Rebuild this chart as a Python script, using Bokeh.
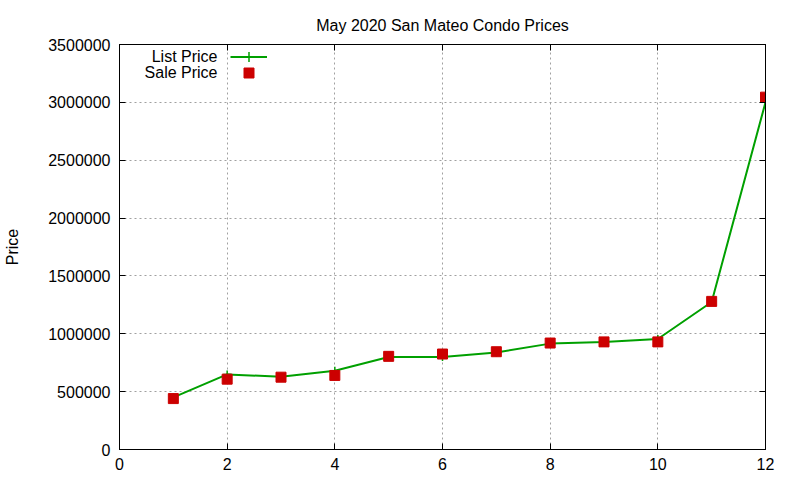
from bokeh.plotting import figure
from bokeh.models import (FixedTicker, BasicTickFormatter, CustomJSTickFormatter,
                          Legend, LegendItem, Label, LinearAxis)
from bokeh.embed import file_html
from bokeh.resources import INLINE

FONT = "Liberation Sans"

months = [1, 2, 3, 4, 5, 6, 7, 8, 9, 10, 11, 12]
list_price = [450000, 649000, 629000, 680000, 799000, 799000,
              838000, 915000, 928000, 955000, 1275000, 3000000]
sale_price = [440000, 608000, 625000, 640000, 805000, 825000,
              845000, 920000, 930000, 930000, 1280000, 3045000]

x_ticks = [0, 2, 4, 6, 8, 10, 12]
y_ticks = [0, 500000, 1000000, 1500000, 2000000, 2500000, 3000000, 3500000]

p = figure(width=800, height=480, x_range=(0, 12), y_range=(0, 3500000),
           output_backend="svg", toolbar_location=None,
           min_border_left=119, min_border_right=35,
           min_border_top=44, min_border_bottom=31)

p.title.text = "May 2020 San Mateo Condo Prices"
p.title.align = "center"
p.title.text_font = FONT
p.title.text_font_size = "16px"
p.title.text_font_style = "normal"
p.title.text_color = "black"
p.title.standoff = 21

p.outline_line_color = "black"
p.outline_line_width = 1

p.xaxis.ticker = FixedTicker(ticks=x_ticks)
p.yaxis.ticker = FixedTicker(ticks=y_ticks)
p.yaxis.formatter = BasicTickFormatter(use_scientific=False)
p.yaxis.axis_label = "Price"
p.yaxis.axis_label_text_font_style = "normal"
p.yaxis.axis_label_text_font_size = "16px"
p.yaxis.axis_label_text_font = FONT
p.yaxis.axis_label_text_color = "black"
p.yaxis.axis_label_standoff = 24
p.yaxis.major_label_standoff = 9
p.xaxis.major_label_standoff = 8

for ax in (p.xaxis, p.yaxis):
    ax.major_label_text_font = FONT
    ax.major_label_text_font_size = "16px"
    ax.major_label_text_color = "black"
    ax.axis_line_color = "black"
    ax.major_tick_line_color = "black"
    ax.major_tick_in = 6
    ax.major_tick_out = 0
    ax.minor_tick_in = 0
    ax.minor_tick_out = 0

# mirrored ticks on the top and right edges
for loc, ticks in (("right", y_ticks), ("above", x_ticks)):
    ax = LinearAxis(ticker=FixedTicker(ticks=ticks),
                    formatter=CustomJSTickFormatter(code="return ''"),
                    major_tick_in=6, major_tick_out=0,
                    minor_tick_in=0, minor_tick_out=0,
                    axis_line_color="black", major_tick_line_color="black",
                    major_label_standoff=0)
    p.add_layout(ax, loc)

p.xgrid.ticker = FixedTicker(ticks=x_ticks)
p.ygrid.ticker = FixedTicker(ticks=y_ticks)
p.grid.grid_line_color = "#a0a0a0"
p.grid.grid_line_dash = "2 3"
p.grid.grid_line_width = 1

line = p.line(months, list_price, line_color="#00a000", line_width=2)
crosses = p.scatter(months, list_price, marker="cross", size=8,
                    line_color="#00a000", line_width=1.5)
squares = p.scatter(months, sale_price, marker="square", size=10,
                    fill_color="#cc0000", line_color="#cc0000")

# gnuplot-style key: text on the left, sample on the right
for renderers, y in (([line, crosses], 380), ([squares], 364)):
    key = Legend(items=[LegendItem(label=" ", renderers=renderers)],
                 location=(111, y), glyph_width=37, glyph_height=25,
                 padding=0, margin=0, label_standoff=0,
                 label_width=0, label_height=16, label_text_font_size="1px",
                 border_line_color=None, background_fill_alpha=0)
    p.add_layout(key)

for text, y in (("List Price", 393), ("Sale Price", 377)):
    p.add_layout(Label(x=98, y=y, x_units="screen", y_units="screen", text=text,
                       text_align="right", text_baseline="middle",
                       text_color="black", text_font=FONT, text_font_size="16px"))

open("out.html", "w").write(file_html(p, INLINE))
